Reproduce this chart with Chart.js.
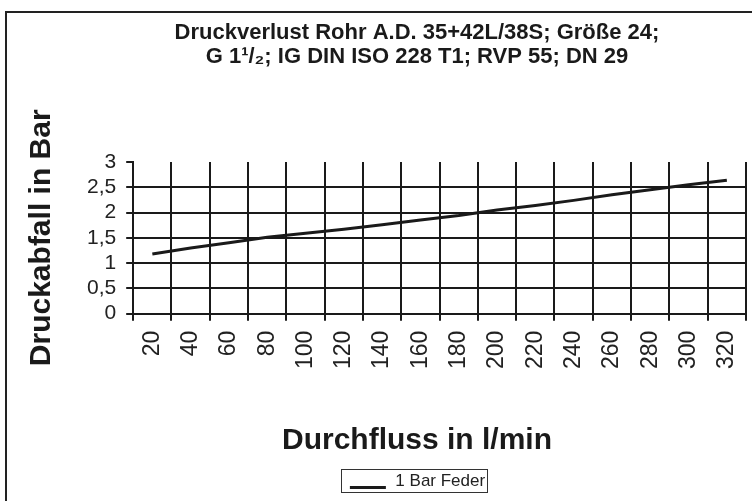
<!DOCTYPE html>
<html>
<head>
<meta charset="utf-8">
<script src="https://cdn.jsdelivr.net/npm/chart.js@4.4.1/dist/chart.umd.min.js"></script>
<style>
  html, body { margin: 0; padding: 0; background: #fff; overflow: hidden; }
  #wrap { position: relative; width: 752px; height: 501px; overflow: hidden; }
  /* outer frame of the original sheet, only top/left edge visible */
  #frame { position: absolute; left: 5px; top: 11px; width: 900px; height: 600px;
           border-left: 2px solid #222; border-top: 2px solid #222; pointer-events: none; }
  #chart { position: absolute; left: 0; top: 0; }
</style>
</head>
<body>
<div id="wrap">
  <canvas id="chart" width="834" height="501"></canvas>
  <div id="frame"></div>
</div>
<script>
const flowLabels = ["20", "40", "60", "80", "100", "120", "140", "160", "180", "200", "220", "240", "260", "280", "300", "320"];
const pressureDrop = [1.18, 1.30, 1.40, 1.51, 1.59, 1.67, 1.76, 1.85, 1.94, 2.05, 2.14, 2.24, 2.35, 2.45, 2.55, 2.64];
const yTickValues = [0, 0.5, 1, 1.5, 2, 2.5, 3];
const yTickLabels = ["0", "0,5", "1", "1,5", "2", "2,5", "3"];
const titleLines = ["Druckverlust Rohr A.D. 35+42L/38S; Größe 24;", "G 1¹/₂; IG DIN ISO 228 T1; RVP 55; DN 29"];
const xTitle = "Durchfluss in l/min";
const yTitle = "Druckabfall in Bar";
const seriesName = "1 Bar Feder";

const FONT = "'Liberation Sans', Arial, Helvetica, sans-serif";
const INK = "#1a1a1a";
const NONE = "rgba(0,0,0,0)";

// legend sample: a line sitting low, like an underscore
const legendLine = document.createElement("canvas");
legendLine.width = 38;
legendLine.height = 17;
const lctx = legendLine.getContext("2d");
lctx.strokeStyle = INK;
lctx.lineWidth = 3;
lctx.beginPath();
lctx.moveTo(1, 14.5);
lctx.lineTo(37, 14.5);
lctx.stroke();

// thin box around the legend
const legendFrame = {
  id: "legendFrame",
  afterDraw(chart) {
    const hb = chart.legend && chart.legend.legendHitBoxes && chart.legend.legendHitBoxes[0];
    if (!hb) return;
    const ctx = chart.ctx;
    ctx.save();
    ctx.strokeStyle = "#333";
    ctx.lineWidth = 1;
    ctx.strokeRect(Math.round(hb.left - 8) + 0.5, Math.round(hb.top - 4) + 0.5, Math.round(hb.width + 10), Math.round(hb.height + 6));
    ctx.restore();
  }
};

new Chart(document.getElementById("chart"), {
  type: "line",
  data: {
    labels: flowLabels,
    datasets: [{
      label: seriesName,
      data: pressureDrop,
      yAxisID: "y",
      borderColor: INK,
      backgroundColor: INK,
      borderWidth: 3,
      pointRadius: 0,
      tension: 0,
      pointStyle: legendLine
    }]
  },
  options: {
    responsive: false,
    animation: false,
    layout: { padding: { left: 8, right: 8, top: 0, bottom: 1 } },
    plugins: {
      title: {
        display: true,
        text: titleLines,
        color: INK,
        font: { family: FONT, size: 22, weight: "bold", lineHeight: 1.09 },
        padding: { top: 21, bottom: 93 }
      },
      // x axis caption, centred on the whole sheet like in the print
      subtitle: {
        display: true,
        position: "bottom",
        weight: 500,
        text: xTitle,
        color: INK,
        font: { family: FONT, size: 30, weight: "bold", lineHeight: 1.2 },
        padding: { top: 44, bottom: 6 }
      },
      legend: {
        position: "bottom",
        labels: {
          color: "#222",
          font: { family: FONT, size: 17 },
          usePointStyle: true,
          pointStyleWidth: 38,
          boxHeight: 17,
          padding: 8
        }
      },
      tooltip: { enabled: false }
    },
    scales: {
      x: {
        offset: true,
        grid: {
          offset: true,
          color: (c) => (c.index === flowLabels.length ? NONE : INK),
          tickColor: INK,
          lineWidth: 2,
          tickLength: 7
        },
        border: { color: INK, width: 2 },
        ticks: {
          color: "#222",
          font: { family: FONT, size: 23 },
          minRotation: 90,
          maxRotation: 90,
          padding: 10,
          autoSkip: false
        }
      },
      y: {
        min: 0,
        max: 3,
        afterBuildTicks: (s) => { s.ticks = yTickValues.map((v) => ({ value: v })); },
        grid: {
          color: (c) => (c.index === yTickValues.length - 1 ? NONE : INK),
          tickColor: INK,
          lineWidth: 2,
          tickLength: 7
        },
        border: { color: INK, width: 2 },
        ticks: {
          color: "#222",
          font: { family: FONT, size: 21 },
          padding: 10,
          autoSkip: false,
          callback: (v, i) => yTickLabels[i]
        },
        title: {
          display: true,
          text: yTitle,
          color: INK,
          font: { family: FONT, size: 30, weight: "bold" },
          padding: { top: 16, bottom: 17 }
        }
      },
      // empty strip on the right so the plot ends where the print's does
      spacer: {
        type: "linear",
        position: "right",
        min: 0,
        max: 3,
        grid: { display: false, drawTicks: false },
        border: { display: false },
        ticks: { display: false },
        afterFit: (s) => { s.width = 80; }
      }
    }
  },
  plugins: [legendFrame]
});
</script>
</body>
</html>
